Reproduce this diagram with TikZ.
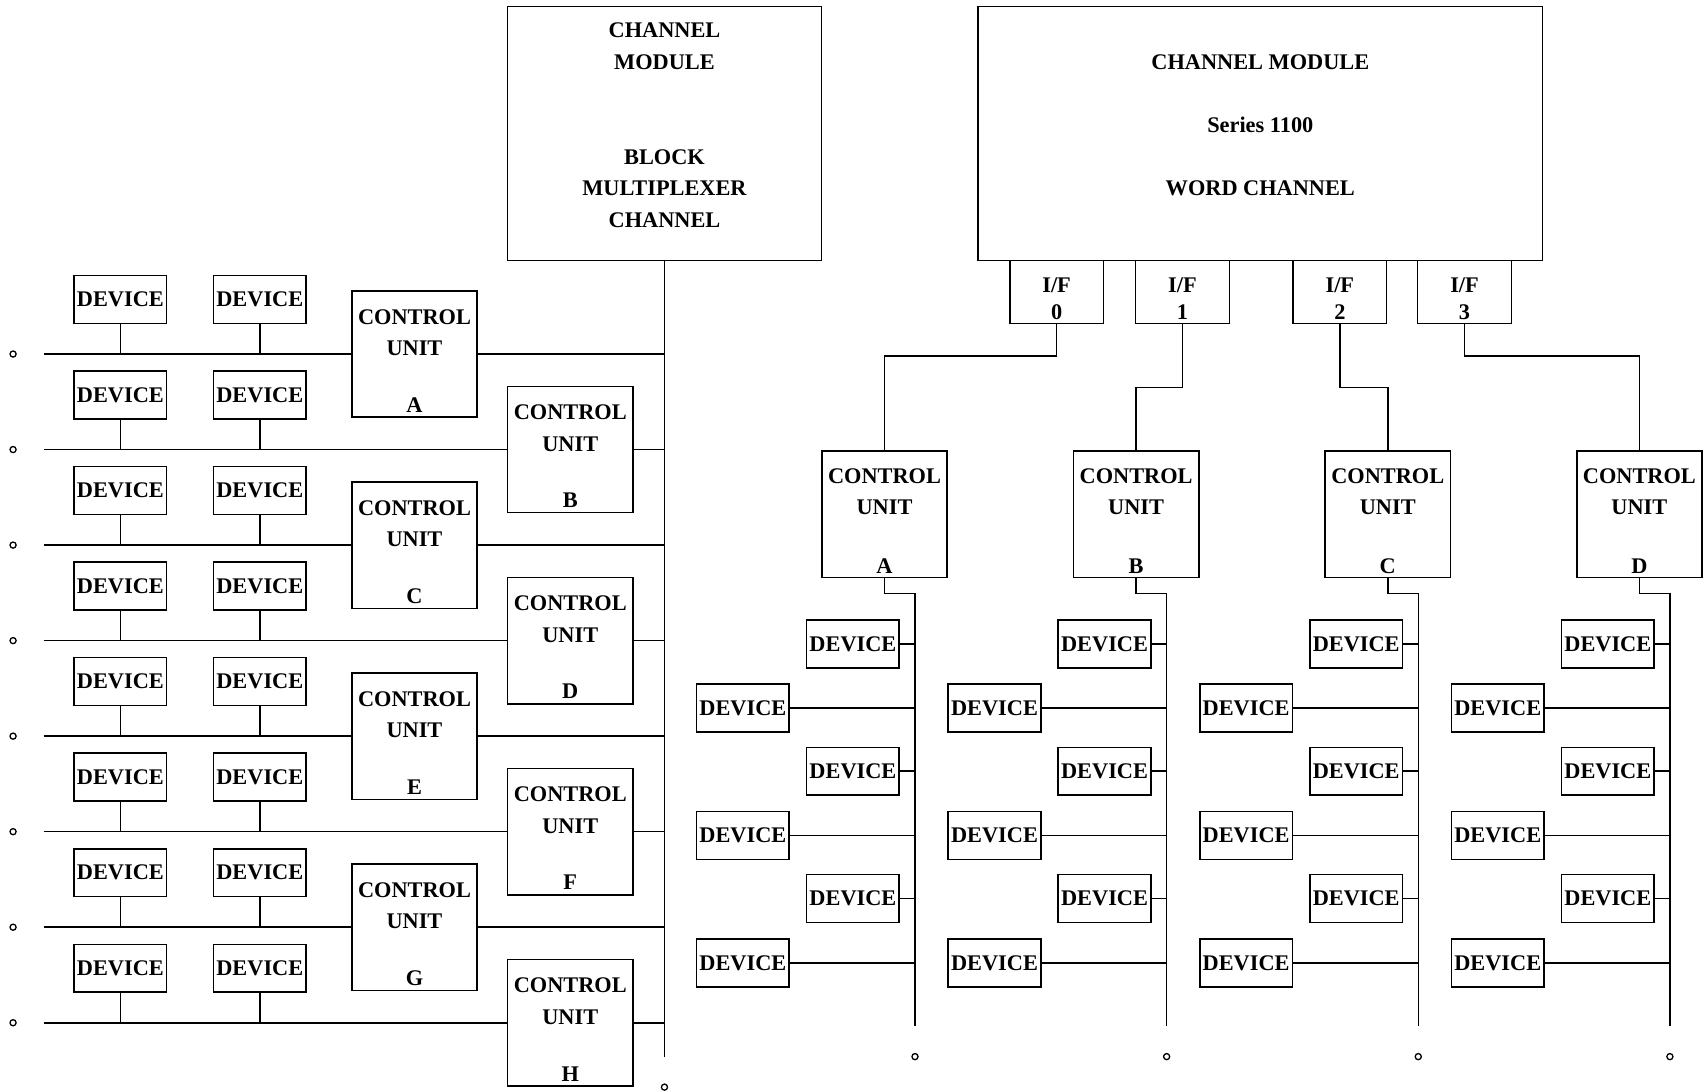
\documentclass[tikz,border=0pt]{standalone}
\usepackage{fontspec}
\setmainfont{Liberation Serif}
\usepackage{tikz}

\newcommand{\cudrop}{\rule{0pt}{26pt}}

\begin{document}
\begin{tikzpicture}[x=1pt,y=-1pt,line width=1.4pt,
    every node/.style={font=\bfseries\fontsize{20.5}{29}\selectfont, align=center, inner sep=0pt},
    box/.style={draw, line width=1.4pt},
    dev/.style={box, minimum width=85, minimum height=44},
    cu/.style={box, minimum width=115, minimum height=116},
    port/.style={box, minimum width=86, minimum height=58},
    endmark/.style={line width=1.2pt}]
    \useasboundingbox (0,0) rectangle (1568,1002);

    % block multiplexer side
    \node[box, minimum width=288, minimum height=233] (blm) at (610,122.5) {};
    \node (blmtext) at (610,115) {CHANNEL\\MODULE\\[58pt]BLOCK\\MULTIPLEXER\\CHANNEL};
    \coordinate (mainend) at (610,970);
    \coordinate (mainmark) at (610,998);
    \draw (blm.south) -- (mainend);
    \draw[endmark] (mainmark) circle (2.8);

    \foreach \k/\l in {0/A,1/B,2/C,3/D,4/E,5/F,6/G,7/H} {
        \pgfmathsetmacro\by{325+87.7*\k}
        \pgfmathsetmacro\cx{mod(\k,2)==0 ? 380.5 : 523.5}
        \node[dev] (ldA\k) at (110.5,\by-50) {DEVICE};
        \node[dev] (ldB\k) at (238.5,\by-50) {DEVICE};
        \node[cu] (lcu\k) at (\cx,\by) {\cudrop CONTROL\\UNIT\\[23pt]\l};
        \coordinate (lbus\k) at (40,\by);
        \coordinate (lmark\k) at (12,\by);
        \draw (lbus\k) -- (lcu\k.west);
        \draw (lcu\k.east) -- (lcu\k.east -| blm.south);
        \draw (ldA\k.south) -- (ldA\k.south |- lbus\k);
        \draw (ldB\k.south) -- (ldB\k.south |- lbus\k);
        \draw[endmark] (lmark\k) circle (2.8);
    }

    % word channel side
    \node[box, minimum width=518, minimum height=233] (wcm) at (1157,122.5) {};
    \node (wcmtext) at (1157,115) {CHANNEL MODULE\\[29pt]Series 1100\\[29pt]WORD CHANNEL};

    \foreach \i/\px in {0/970,1/1085.5,2/1230,3/1344.5}
        \node[port] (if\i) at (\px,268) {\cudrop I/F\\[-4pt]\i};

    \foreach \g/\l/\cx in {0/A/812,1/B/1043,2/C/1274,3/D/1505} {
        \node[cu] (rcu\g) at (\cx,472) {\cudrop CONTROL\\UNIT\\[25pt]\l};
        \coordinate (rtop\g) at (\cx+28,545);
        \coordinate (rbot\g) at (\cx+28,942);
        \coordinate (rmark\g) at (\cx+28,970);
        \draw (rcu\g.south) |- (rtop\g) -- (rbot\g);
        \draw[endmark] (rmark\g) circle (2.8);
        \foreach \r in {0,1,2} {
            \node[dev] (rdA\g\r) at (\cx-29,591+117*\r) {DEVICE};
            \node[dev] (rdB\g\r) at (\cx-130,650+117*\r) {DEVICE};
            \draw (rdA\g\r.east) -- (rdA\g\r.east -| rtop\g);
            \draw (rdB\g\r.east) -- (rdB\g\r.east -| rtop\g);
        }
    }

    \foreach \i/\d in {0/29,1/58,2/58,3/29}
        \draw (if\i.south) -- ++(0,\d) -| (rcu\i.north);
\end{tikzpicture}
\end{document}
